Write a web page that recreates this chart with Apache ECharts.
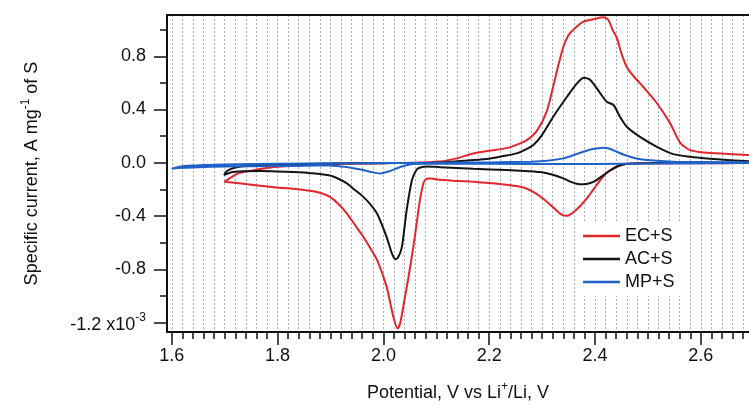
<!DOCTYPE html>
<html>
<head>
<meta charset="utf-8">
<script src="https://cdn.jsdelivr.net/npm/echarts@6/dist/echarts.min.js"></script>
<style>html,body{margin:0;padding:0;background:#fff}#c{width:749px;height:407px}</style>
</head>
<body>
<div id="c"></div>
<script>
// Potential (V vs Li+/Li) , specific current (x10^-3 A mg^-1 of S); loops: cathodic scan then anodic scan
const ecData = [
  [2.75,0.0],[2.69,-0.002],[2.60,-0.003],[2.50,-0.003],[2.47,-0.006],[2.447,-0.017],[2.435,-0.04],[2.422,-0.075],
  [2.410,-0.13],[2.397,-0.2],[2.384,-0.27],[2.372,-0.325],[2.359,-0.372],[2.347,-0.398],[2.335,-0.385],[2.321,-0.335],
  [2.302,-0.27],[2.284,-0.22],[2.265,-0.185],[2.233,-0.165],[2.20,-0.152],[2.17,-0.143],[2.14,-0.136],[2.107,-0.128],
  [2.09,-0.118],[2.082,-0.12],[2.076,-0.15],[2.069,-0.28],[2.063,-0.45],[2.057,-0.62],[2.047,-0.87],[2.038,-1.07],
  [2.032,-1.2],[2.027,-1.245],[2.019,-1.16],[2.006,-0.93],[1.988,-0.73],[1.975,-0.64],[1.962,-0.556],[1.945,-0.46],
  [1.931,-0.381],[1.915,-0.31],[1.899,-0.256],[1.88,-0.225],[1.861,-0.21],[1.83,-0.195],[1.798,-0.185],[1.767,-0.172],
  [1.735,-0.158],[1.71,-0.147],[1.70,-0.143],
  [1.712,-0.11],[1.725,-0.08],[1.75,-0.06],[1.77,-0.045],[1.80,-0.03],[1.85,-0.018],[1.90,-0.01],[1.95,-0.006],
  [2.00,-0.003],[2.05,0.0],[2.107,0.01],[2.14,0.035],[2.17,0.07],[2.20,0.09],[2.233,0.11],[2.255,0.14],[2.271,0.17],
  [2.29,0.24],[2.309,0.39],[2.328,0.69],[2.34,0.87],[2.35,0.96],[2.359,1.0],[2.378,1.06],[2.397,1.078],[2.416,1.093],
  [2.425,1.073],[2.433,1.0],[2.441,0.94],[2.45,0.82],[2.46,0.72],[2.473,0.65],[2.491,0.571],[2.517,0.447],[2.542,0.296],
  [2.561,0.15],[2.58,0.095],[2.611,0.075],[2.674,0.063],[2.69,0.058],[2.75,0.05]
];
const acData = [
  [2.75,0.0],[2.60,-0.002],[2.50,-0.003],[2.46,-0.008],[2.441,-0.03],[2.428,-0.06],[2.416,-0.092],[2.403,-0.13],
  [2.391,-0.152],[2.378,-0.162],[2.365,-0.158],[2.352,-0.14],[2.340,-0.117],[2.32,-0.09],[2.296,-0.07],[2.26,-0.06],
  [2.233,-0.055],[2.17,-0.045],[2.107,-0.033],[2.082,-0.027],[2.07,-0.035],[2.063,-0.05],[2.054,-0.13],[2.044,-0.356],
  [2.035,-0.632],[2.028,-0.71],[2.023,-0.724],[2.016,-0.68],[2.006,-0.556],[1.988,-0.381],[1.975,-0.31],[1.962,-0.256],
  [1.945,-0.2],[1.931,-0.155],[1.915,-0.12],[1.899,-0.095],[1.861,-0.078],[1.83,-0.07],[1.80,-0.065],[1.767,-0.062],
  [1.735,-0.064],[1.715,-0.07],[1.703,-0.085],[1.699,-0.092],
  [1.705,-0.06],[1.72,-0.035],[1.75,-0.02],[1.80,-0.012],[1.90,-0.006],[2.0,-0.003],[2.107,0.002],[2.17,0.02],
  [2.202,0.033],[2.233,0.055],[2.252,0.071],[2.271,0.105],[2.285,0.14],[2.30,0.21],[2.321,0.346],[2.347,0.496],
  [2.366,0.597],[2.379,0.639],[2.391,0.622],[2.41,0.522],[2.422,0.459],[2.435,0.434],[2.447,0.346],[2.46,0.271],
  [2.485,0.195],[2.517,0.12],[2.548,0.065],[2.58,0.045],[2.611,0.033],[2.674,0.015],[2.75,0.005]
];
const mpData = [
  [2.75,0.0],[2.60,-0.003],[2.45,-0.008],[2.35,-0.01],[2.20,-0.008],[2.10,-0.006],[2.057,-0.01],[2.04,-0.022],
  [2.025,-0.042],[2.01,-0.065],[1.994,-0.08],[1.98,-0.072],[1.962,-0.055],[1.93,-0.032],[1.899,-0.02],[1.85,-0.022],
  [1.80,-0.025],[1.70,-0.028],[1.65,-0.033],[1.62,-0.038],[1.60,-0.045],
  [1.615,-0.03],[1.63,-0.022],[1.70,-0.012],[1.80,-0.007],[1.90,-0.004],[2.0,-0.002],[2.1,0.0],[2.2,0.003],[2.28,0.008],
  [2.31,0.015],[2.34,0.033],[2.36,0.058],[2.378,0.083],[2.39,0.098],[2.403,0.108],[2.416,0.113],[2.428,0.105],
  [2.441,0.083],[2.455,0.06],[2.466,0.045],[2.48,0.03],[2.498,0.02],[2.548,0.008],[2.6,0.005],[2.75,0.003]
];
const seriesNames = ['EC+S', 'AC+S', 'MP+S'];
const xTickLabels = [1.6, 1.8, 2.0, 2.2, 2.4, 2.6];
const yTickLabels = [-1.2, -0.8, -0.4, 0.0, 0.4, 0.8];
const yMinorTicks = [-1.0, -0.6, -0.2, 0.2, 0.6, 1.0];
const xMin = 1.591, xMax = 2.691, yMin = -1.271, yMax = 1.11;

const xMinorTicks = [];
for (let k = 160; k <= 268; k += 2) xMinorTicks.push(k / 100);

const FONT = "'Liberation Sans', Arial, sans-serif";
const FS = 18;
const colors = ['#e3262c', '#141414', '#1f62c9'];
const chart = echarts.init(document.getElementById('c'), null, {renderer: 'canvas'});
const axisLine = {show: true, onZero: false, lineStyle: {color: '#111', width: 2}};
chart.setOption({
  animation: false,
  grid: {left: 167, top: 15, right: 0, bottom: 75, outerBoundsMode: 'none', containLabel: false},
  legend: {
    orient: 'vertical', left: 577, top: 222, data: seriesNames,
    icon: 'rect', itemWidth: 37, itemHeight: 2.5, itemGap: 5,
    backgroundColor: '#ffffff', padding: [5, 6, 5, 6],
    textStyle: {fontFamily: FONT, fontSize: FS, color: '#111', lineHeight: 18}
  },
  xAxis: [
    {
      type: 'value', min: xMin, max: xMax, position: 'bottom',
      axisLine: axisLine,
      axisTick: {show: true, inside: false, length: 13, lineStyle: {color: '#111', width: 1.5}, customValues: xTickLabels},
      axisLabel: {show: true, customValues: xTickLabels, margin: 15, fontFamily: FONT, fontSize: FS, color: '#111',
        formatter: v => v.toFixed(1)},
      splitLine: {show: false},
      name: '{n|Potential, V vs Li}{s|+}{n|/Li, V}', nameLocation: 'middle', nameGap: 49,
      nameTextStyle: {rich: {
        n: {fontFamily: FONT, fontSize: FS, color: '#111', verticalAlign: 'bottom'},
        s: {fontFamily: FONT, fontSize: 12, color: '#111', verticalAlign: 'bottom', padding: [0, 0, 9, 0]}
      }}
    },
    {
      type: 'value', min: xMin, max: xMax, position: 'bottom',
      axisLine: {show: false, onZero: false},
      axisTick: {show: true, inside: false, length: 7, lineStyle: {color: '#111', width: 1.5}, customValues: xMinorTicks},
      axisLabel: {show: false},
      splitLine: {show: true, lineStyle: {color: '#a3abbc', width: 1, type: [2, 2]}}
    },
    {
      type: 'value', min: xMin, max: xMax, position: 'top',
      axisLine: axisLine, axisTick: {show: false}, axisLabel: {show: false}, splitLine: {show: false}
    }
  ],
  yAxis: [
    {
      type: 'value', min: yMin, max: yMax, position: 'left',
      axisLine: axisLine,
      axisTick: {show: true, inside: false, length: 13, lineStyle: {color: '#111', width: 1.5}, customValues: yTickLabels},
      axisLabel: {show: true, customValues: yTickLabels, margin: 21,
        formatter: v => Math.abs(v + 1.2) < 1e-6 ? '{m|-1.2 x10}{s|-3}' : '{m|' + (Math.abs(v) < 1e-9 ? '0.0' : v.toFixed(1)) + '}',
        rich: {
          m: {fontFamily: FONT, fontSize: FS, color: '#111', verticalAlign: 'bottom'},
          s: {fontFamily: FONT, fontSize: 12, color: '#111', verticalAlign: 'bottom', padding: [0, 0, 10, 0]}
        }},
      splitLine: {show: false},
      name: '{n|Specific current, A mg}{s|-1}{n| of S}', nameLocation: 'middle', nameGap: 126, nameRotate: 90,
      nameTextStyle: {rich: {
        n: {fontFamily: FONT, fontSize: FS, color: '#111', verticalAlign: 'bottom'},
        s: {fontFamily: FONT, fontSize: 12, color: '#111', verticalAlign: 'bottom', padding: [0, 0, 9, 0]}
      }}
    },
    {
      type: 'value', min: yMin, max: yMax, position: 'left',
      axisLine: {show: false, onZero: false},
      axisTick: {show: true, inside: false, length: 7, lineStyle: {color: '#111', width: 1.5}, customValues: yMinorTicks},
      axisLabel: {show: false}, splitLine: {show: false}
    }
  ],
  series: [ecData, acData, mpData].map((d, i) => ({
    name: seriesNames[i], type: 'line', data: d, xAxisIndex: 0, yAxisIndex: 0,
    showSymbol: false, smooth: 0.25, clip: true,
    lineStyle: {color: colors[i], width: 2}, itemStyle: {color: colors[i]}
  }))
});
</script>
</body>
</html>
